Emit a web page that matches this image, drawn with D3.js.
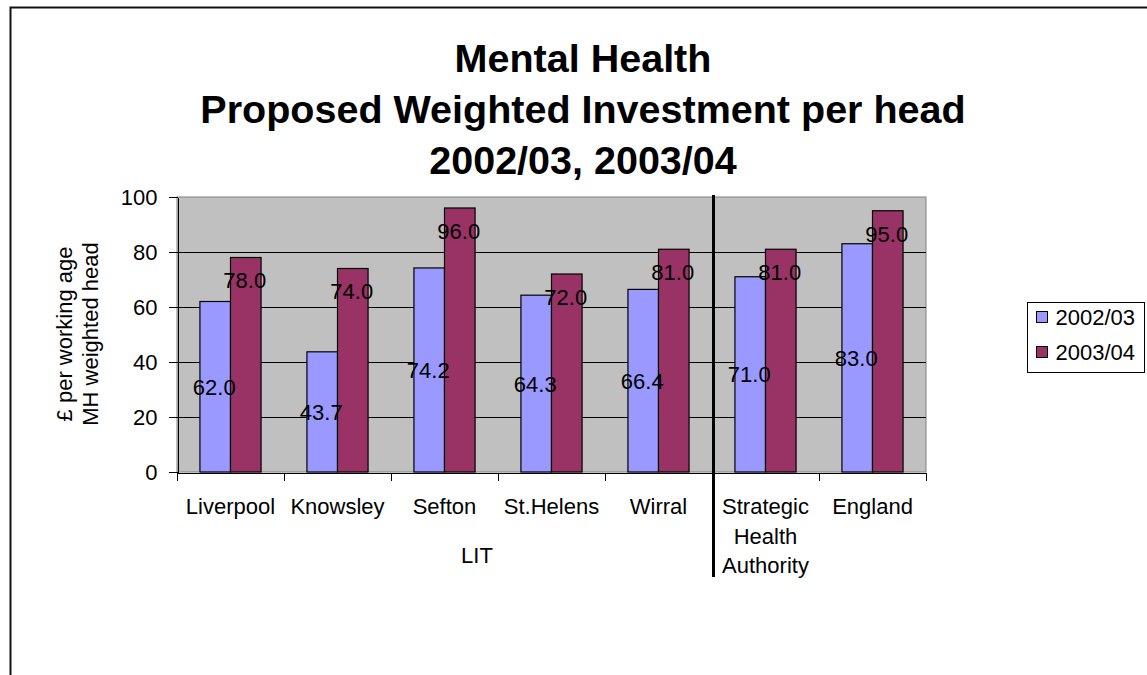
<!DOCTYPE html>
<html>
<head>
<meta charset="utf-8">
<style>
    body { margin: 0; background: #fff; }
    text { font-family: Arial, "Liberation Sans", sans-serif; fill: #000; }
    .title { font-size: 39.5px; font-weight: bold; text-anchor: middle; }
    .small { font-size: 22px; }
    .axis path, .axis line { stroke: #000; shape-rendering: crispEdges; }
    .axis text { font-size: 22px; font-family: Arial, "Liberation Sans", sans-serif; }
</style>
</head>
<body>
<svg width="1147" height="675"></svg>
<script src="https://cdn.jsdelivr.net/npm/d3@7"></script>
<script>
// data
var categories = ["Liverpool", "Knowsley", "Sefton", "St.Helens", "Wirral", "Strategic Health Authority", "England"];
var series = ["2002/03", "2003/04"];
var values0203 = [62.0, 43.7, 74.2, 64.3, 66.4, 71.0, 83.0];
var values0304 = [78.0, 74.0, 96.0, 72.0, 81.0, 81.0, 95.0];
var yTicks = [0, 20, 40, 60, 80, 100];
var colors = ["#9999ff", "#993366"];

var svg = d3.select("svg");
var margin = {left: 177, right: 221, top: 197, bottom: 203};
var W = 1147, H = 675;

// outer chart border (cropped on right and bottom)
svg.append("path")
    .attr("d", "M10.5,676 V7.5 H1150")
    .attr("fill", "none")
    .attr("stroke", "#111")
    .attr("stroke-width", 2);

var x0 = d3.scaleBand().domain(categories).range([margin.left, W - margin.right]).padding(0);
var x1 = d3.scaleBand().domain(series).range([0, x0.bandwidth()]).paddingInner(0).paddingOuter(0.75);
var y = d3.scaleLinear().domain([0, 100]).range([H - margin.bottom, margin.top]);
var xi = d3.scaleLinear().domain([0, categories.length]).range(x0.range());

var g = svg.append("g");

// plot background
g.append("rect")
    .attr("x", x0.range()[0]).attr("y", y(100))
    .attr("width", x0.range()[1] - x0.range()[0]).attr("height", y(0) - y(100))
    .attr("fill", "#c0c0c0")
    .attr("stroke", "#808080");

// gridlines
g.selectAll(".grid").data(yTicks.filter(function(d) { return d > 0 && d < 100; }))
    .enter().append("line")
    .attr("x1", x0.range()[0]).attr("x2", x0.range()[1])
    .attr("y1", function(d) { return Math.round(y(d)) + 0.5; })
    .attr("y2", function(d) { return Math.round(y(d)) + 0.5; })
    .attr("stroke", "#000");

var rows = categories.map(function(c, i) { return {cat: c, vals: [values0203[i], values0304[i]]}; });

var grp = g.selectAll(".grp").data(rows).enter().append("g")
    .attr("transform", function(d) { return "translate(" + x0(d.cat) + ",0)"; });

grp.selectAll("rect").data(function(d) {
        return d.vals.map(function(v, j) { return {s: series[j], v: v, j: j}; });
    })
    .enter().append("rect")
    .attr("x", function(d) { return x1(d.s); })
    .attr("width", x1.bandwidth())
    .attr("y", function(d) { return y(d.v); })
    .attr("height", function(d) { return y(0) - y(d.v); })
    .attr("fill", function(d) { return colors[d.j]; })
    .attr("stroke", "#000")
    .attr("stroke-width", 1.2);

// y axis
var yAxis = d3.axisLeft(y).tickValues(yTicks).tickSize(9).tickPadding(11).tickSizeOuter(0);
g.append("g").attr("class", "axis")
    .attr("transform", "translate(" + (x0.range()[0] + 0.5) + ",0)")
    .call(yAxis)
    .selectAll("text").attr("dy", "0.36em");

// x axis ticks at category boundaries
var xAxis = d3.axisBottom(xi).tickValues(d3.range(categories.length + 1)).tickFormat("").tickSize(8).tickSizeOuter(0);
g.append("g").attr("class", "axis")
    .attr("transform", "translate(0," + (Math.round(y(0)) + 0.5) + ")")
    .call(xAxis);

// data labels: 2002/03 in the middle of the bar, 2003/04 just inside the top
var labels = g.append("g").attr("class", "small");
rows.forEach(function(r) {
    labels.append("text")
        .attr("x", x0(r.cat) + x1(series[0]) + x1.bandwidth() / 2 - 1)
        .attr("y", y(r.vals[0] / 2))
        .attr("dy", "0.36em")
        .attr("text-anchor", "middle")
        .text(d3.format(".1f")(r.vals[0]));
    labels.append("text")
        .attr("x", x0(r.cat) + x1(series[1]) + x1.bandwidth() / 2 - 1)
        .attr("y", y(r.vals[1]) + 23)
        .attr("dy", "0.36em")
        .attr("text-anchor", "middle")
        .text(d3.format(".1f")(r.vals[1]));
});

// category labels
var catLines = {"Strategic Health Authority": ["Strategic", "Health", "Authority"]};
categories.forEach(function(c) {
    var lines = catLines[c] || [c];
    var t = g.append("text").attr("class", "small")
        .attr("text-anchor", "middle")
        .attr("x", x0(c) + x0.bandwidth() / 2)
        .attr("y", 514);
    lines.forEach(function(l, i) {
        t.append("tspan").attr("x", x0(c) + x0.bandwidth() / 2).attr("dy", i ? 29.5 : 0).text(l);
    });
});

g.append("text").attr("class", "small")
    .attr("x", 477).attr("y", 563)
    .attr("text-anchor", "middle")
    .text("LIT");

// separator between LIT group and the rest
g.append("line")
    .attr("x1", xi(5) + 1.5).attr("x2", xi(5) + 1.5)
    .attr("y1", 195).attr("y2", 577)
    .attr("stroke", "#000").attr("stroke-width", 3);

// y axis title
var yt = svg.append("text").attr("class", "small")
    .attr("text-anchor", "middle")
    .attr("transform", "translate(72,334) rotate(-90)");
yt.append("tspan").attr("x", 0).attr("dy", 0).text("£ per working age");
yt.append("tspan").attr("x", 0).attr("dy", 26).text("MH weighted head");

// title
var title = ["Mental Health", "Proposed Weighted Investment per head", "2002/03, 2003/04"];
svg.selectAll(".title").data(title).enter().append("text")
    .attr("class", "title")
    .attr("x", 583)
    .attr("y", function(d, i) { return 72 + i * 51; })
    .text(function(d) { return d; });

// legend
var lg = svg.append("g").attr("transform", "translate(1027.5,302.5)");
lg.append("rect").attr("width", 117).attr("height", 70)
    .attr("fill", "#fff").attr("stroke", "#000");
series.forEach(function(s, i) {
    lg.append("rect")
        .attr("x", 9).attr("y", 9 + i * 35)
        .attr("width", 11).attr("height", 11)
        .attr("fill", colors[i]).attr("stroke", "#000");
    lg.append("text").attr("class", "small")
        .attr("x", 28).attr("y", 15 + i * 35).attr("dy", "0.36em")
        .text(s);
});
</script>
</body>
</html>
